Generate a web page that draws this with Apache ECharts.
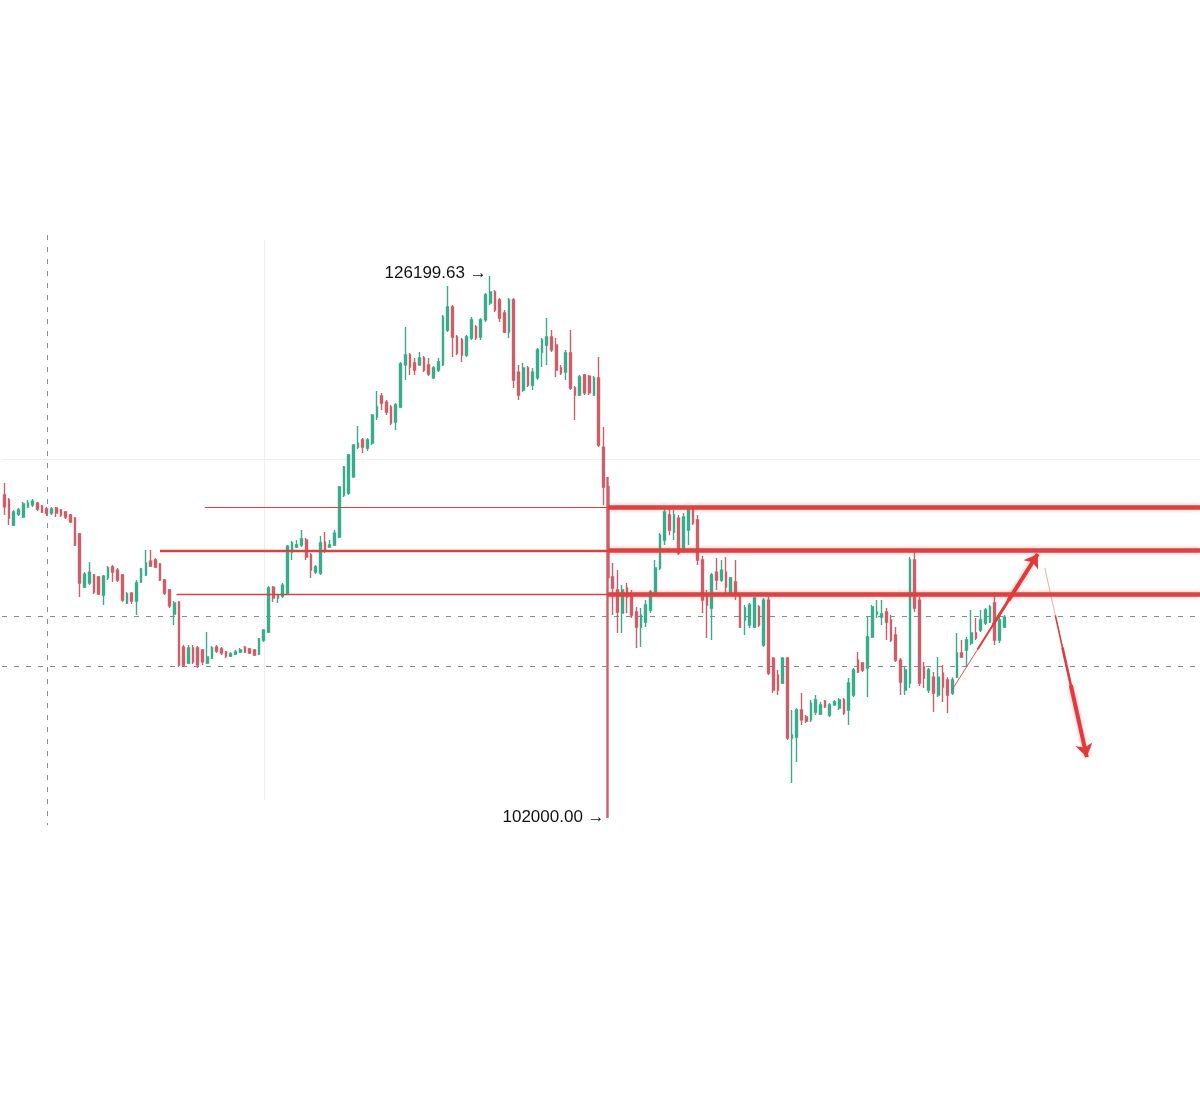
<!DOCTYPE html>
<html><head><meta charset="utf-8">
<script src="https://cdn.jsdelivr.net/npm/echarts@6/dist/echarts.min.js"></script>
<style>html,body{margin:0;padding:0;background:#fff}#c{width:1200px;height:1117px}</style>
</head><body><div id="c"></div>
<script>
// ---- candle data (4h bars) ----
const opens = [116420,116200,115080,115570,115440,115890,115980,116060,115930,115800,115620,115840,115750,115660,115530,115390,114680,112310,112490,112850,112760,111960,112720,113210,113070,112850,111600,112040,111690,112540,112850,113470,113520,113340,112630,112180,111110,111640,109630,108920,109590,109590,109500,108920,109140,109630,109550,109410,109230,109320,109410,109630,109550,109500,109320,109950,110300,112310,111820,111910,112040,113880,114100,114190,114410,113740,112980,112940,114320,114100,114190,114550,116420,116510,117230,118560,118880,118520,118740,119900,120840,120570,120350,119680,120350,122230,122670,122320,122230,122540,122230,121650,122000,122230,123790,124820,123480,123340,122670,123430,123920,123480,124240,124990,125490,125130,124550,123700,125130,121910,121110,122090,121330,121650,122810,123120,123480,123120,122090,121910,122760,121200,120890,121780,121730,120890,121650,118560,116780,112760,112180,111150,112270,111870,111200,110530,110750,111290,112090,113160,114410,115530,114770,115390,113970,114860,115750,115310,113520,111960,111380,112980,112630,112980,112040,112540,111960,110840,110620,110530,111420,109720,111730,109140,108380,108030,109140,105570,105620,106820,106510,106380,106730,106640,107220,106600,107050,106910,107270,106820,107490,109050,108920,108700,110080,111110,110970,111200,110840,110170,109050,107710,108030,113520,111730,108740,107710,108290,107490,108470,108160,107580,108290,109370,109500,109810,110260,110390,110710,110750,111600,109950,110530];
const closes = [115890,115390,115660,115750,116020,116060,116150,115800,115660,115620,115800,115620,115530,115440,115220,114190,112490,112890,112980,112090,112000,112800,113160,112980,112630,111730,112000,111690,112490,113120,113390,113250,113210,112630,112040,111470,111600,108830,108830,109590,108970,108830,108970,109190,109590,109460,109370,109230,109320,109410,109500,109410,109370,109280,109990,110390,112270,111820,111960,112400,114140,114280,114190,114460,113650,113070,113210,114280,113970,114190,114720,116780,117670,118210,118650,118740,118560,118880,119990,120350,120530,120130,119640,120440,122270,122670,122140,122000,122540,122000,121820,122090,122360,124370,124820,123480,122760,122670,123480,124240,123430,124240,125350,125490,124680,124320,123700,125130,121560,120890,122090,121330,121910,122900,123340,123480,122900,122000,121870,122760,121200,120890,121690,120980,120980,121650,118650,116780,112760,112270,111200,112180,111870,111060,110530,111060,111510,112090,113160,114630,115660,114860,115530,113830,115440,115750,115170,113520,111730,111510,112850,112630,113070,112310,112720,111960,110530,111380,111510,111820,110620,111730,108470,107710,107710,109140,105570,105710,106820,106380,106330,107130,107270,107050,106960,107050,107180,107270,106690,108030,108610,108520,108610,110080,111420,111200,111110,110750,109950,109050,108070,108610,113520,111380,108030,108250,108610,107580,108290,107850,107490,108160,109370,109190,109950,110260,110040,110840,111290,111420,109950,110840,110970];
const lows = [115530,115080,115040,115480,115390,115840,115890,115710,115620,115480,115530,115440,115440,115350,115170,114140,111870,112270,112400,112000,111960,111510,112630,112540,112540,111640,111550,111550,111060,112490,112800,113210,113160,112580,111960,111380,110620,108740,108740,108880,108880,108700,108830,108880,109100,109370,109280,109140,109190,109280,109370,109370,109320,109230,109280,109860,110260,111640,111600,111820,111960,113520,114060,114100,113520,112720,112890,112850,113830,114060,114140,114500,116330,116420,117180,118480,118300,118390,118650,119770,120220,119990,119550,119320,120310,121560,121780,121780,122180,121910,121730,121600,121910,122180,123700,122580,122670,122360,122580,123340,123340,123340,124150,124900,124590,124150,123650,123430,121200,120660,121020,121240,121110,121560,122140,122230,122810,121690,121780,121560,121110,119770,120840,120890,120890,120840,118560,115980,102000,111060,110260,110260,111150,110930,109590,109630,110530,111150,111960,113070,114190,114630,114410,113740,113830,114190,115080,113300,111150,110040,109950,112180,112540,111960,111960,111730,110480,110170,110480,110480,110530,109630,108380,107580,107490,107980,105480,103560,104500,106150,106240,106290,106600,106600,106910,106510,107000,106820,106600,106150,107400,108470,108520,107400,110040,110930,110620,109950,109860,108970,107490,107490,107800,111200,107890,107800,107580,106730,107400,107180,106690,107490,108250,109140,108740,109720,109950,110300,110620,110710,109720,109810,110480];
const highs = [116960,116290,115750,115840,116110,116200,116240,116110,115980,115890,115890,115890,115800,115710,115570,115440,114720,112980,113430,112890,112800,112850,113250,113300,113160,112890,112090,112090,112630,113160,113970,113970,113610,113390,112670,112220,111690,111690,109720,109720,109720,109680,109550,110300,109680,109720,109630,109460,109410,109500,109590,109680,109590,109550,110040,110440,112360,112360,112000,112490,114190,114370,114410,114860,114500,113830,113300,114590,114770,114410,114860,116820,117720,118250,118700,119500,118970,118970,120040,121070,120980,120660,120440,120530,122360,123920,122760,122540,122810,122630,122540,122180,122540,124460,125750,124900,123570,123430,123570,124370,124010,124320,125440,126199.63,125570,125220,124680,125220,125220,122230,122320,122180,122090,122990,123430,124320,123790,123430,122230,122900,123790,121290,121780,121820,121780,121730,122580,119460,117230,113390,113070,112400,112490,112180,111420,111380,111730,112180,113520,114720,115890,115890,115750,115530,115620,115890,115890,115530,113700,112180,112940,113610,113520,113650,112760,113520,112040,111510,111600,111870,111510,111820,111870,109190,108610,109190,109190,106820,106910,107580,106600,107270,107490,107180,107270,107130,107270,107360,107360,108250,108700,109410,108970,110970,111510,111730,111730,111380,111060,110530,109140,108740,113650,113920,111870,108970,108700,108520,109190,108830,108290,108290,110260,109950,110080,111290,110930,111290,111380,111510,112090,110970,111060];

// ---- annotations (data space: bar index, price) ----
const highMark = {index: 103, price: 126199.63, text: '126199.63'};
const lowMark = {index: 128, price: 102000, text: '102000.00'};
const levelPrices = [115870, 113940, 111990];
const levelStartIdx = [42.5, 33, 36.5];
const levelBreakIdx = 128;
const dashedPrices = [110990, 108790];
const dashedVIdx = 9;
const dashedVRange = [128030, 101680];
const gridVIdx = 55;
const gridVRange = [127800, 102800];
const gridHPrice = 118030;
const upArrow = [[200.9, 107710], [219.1, 113790]];
const downArrow = [[220.6, 113160], [229.5, 104720]];
const boldBars = [128];

const N_SLOTS = 254;
const categories = Array.from({length: N_SLOTS}, (_, i) => String(i));
const X_MIN = -0.5, X_MAX = N_SLOTS - 0.5;

const candleData = opens.map((o, i) => {
  const v = [o, closes[i], lows[i], highs[i]];
  return boldBars.includes(i) ? {value: v, itemStyle: {borderWidth: 2.4}} : v;
});

function part(a, t0, t1) {
  const p = t => [a[0][0] + (a[1][0] - a[0][0]) * t, a[0][1] + (a[1][1] - a[0][1]) * t];
  return [p(t0), p(t1)];
}

const RED = '#d94343';
const glow = {shadowBlur: 4, shadowColor: 'rgba(235,80,80,0.45)'};
const UP = '#3aab8c', DOWN = '#cc5f6a';

const chart = echarts.init(document.getElementById('c'), null, {renderer: 'canvas'});
chart.setOption({
  animation: false,
  backgroundColor: '#ffffff',
  grid: {left: 2, right: 0, top: 190.9, bottom: 254.2},
  xAxis: [
    {type: 'category', data: categories, show: false, boundaryGap: true},
    {type: 'value', min: X_MIN, max: X_MAX, show: false}
  ],
  yAxis: [{type: 'value', min: 100000, max: 130000, show: false, scale: true}],
  series: [
    {
      type: 'lines', coordinateSystem: 'cartesian2d', xAxisIndex: 1, yAxisIndex: 0, z: 1, silent: true,
      lineStyle: {color: '#eeeeee', width: 1, opacity: 1},
      data: [
        {coords: [[gridVIdx, gridVRange[0]], [gridVIdx, gridVRange[1]]]},
        {coords: [[X_MIN, gridHPrice], [X_MAX, gridHPrice]]}
      ]
    },
    {
      type: 'lines', coordinateSystem: 'cartesian2d', xAxisIndex: 1, yAxisIndex: 0, z: 1, silent: true,
      lineStyle: {color: '#8a8a8a', width: 1, opacity: 1, type: [5, 7]},
      data: [
        {coords: [[dashedVIdx, dashedVRange[0]], [dashedVIdx, dashedVRange[1]]]},
        ...dashedPrices.map(p => ({coords: [[X_MIN, p], [X_MAX, p]]}))
      ]
    },
    {
      type: 'candlestick', xAxisIndex: 0, yAxisIndex: 0, z: 2,
      data: candleData, barWidth: 2.2,
      itemStyle: {color: UP, color0: DOWN, borderColor: UP, borderColor0: DOWN, borderWidth: 1.4},
      markPoint: {
        symbol: 'circle', symbolSize: 1, silent: true,
        itemStyle: {color: 'rgba(0,0,0,0)'},
        label: {show: true, position: 'left', distance: 3, color: '#131313', fontSize: 17,
                fontFamily: 'Liberation Sans, Arial, sans-serif', formatter: '{b} →'},
        data: [
          {name: highMark.text, coord: [highMark.index, highMark.price], label: {offset: [0, -3]}},
          {name: lowMark.text, coord: [lowMark.index, lowMark.price], label: {offset: [0, -1]}}
        ]
      }
    },
    {
      type: 'lines', coordinateSystem: 'cartesian2d', xAxisIndex: 1, yAxisIndex: 0, z: 5, silent: true,
      lineStyle: {color: '#d04545', opacity: 1},
      data: levelPrices.map((p, k) => ({
        coords: [[levelStartIdx[k], p], [levelBreakIdx, p]],
        lineStyle: {width: [1.2, 2.4, 1.3][k], color: '#d04545', opacity: 1}
      }))
    },
    {
      type: 'lines', coordinateSystem: 'cartesian2d', xAxisIndex: 1, yAxisIndex: 0, z: 5, silent: true,
      lineStyle: Object.assign({color: RED, width: 4.5, opacity: 1}, glow),
      data: levelPrices.map(p => ({coords: [[levelBreakIdx, p], [X_MAX, p]]}))
    },
    {
      type: 'lines', coordinateSystem: 'cartesian2d', xAxisIndex: 1, yAxisIndex: 0, z: 6, silent: true,
      lineStyle: {color: '#e03c3c', opacity: 1},
      data: [
        {coords: part(upArrow, 0, 1), lineStyle: {width: 1, opacity: 0.9}},
        {coords: part(upArrow, 0.3, 0.97), lineStyle: {width: 2}},
        {coords: part(upArrow, 0.48, 0.97), lineStyle: {width: 3}},
        {coords: part(downArrow, 0, 1), lineStyle: {width: 0.8, opacity: 0.55}},
        {coords: part(downArrow, 0.25, 0.97), lineStyle: {width: 1.6}},
        {coords: part(downArrow, 0.42, 0.97), lineStyle: {width: 2.6}}
      ]
    },
    {
      type: 'lines', coordinateSystem: 'cartesian2d', xAxisIndex: 1, yAxisIndex: 0, z: 7, silent: true,
      symbol: ['none', 'arrow'], symbolSize: 13,
      lineStyle: Object.assign({color: '#e23a3a', width: 4, opacity: 1}, glow),
      data: [
        {coords: part(upArrow, 0.66, 1)},
        {coords: part(downArrow, 0.62, 1)}
      ]
    }
  ]
});
</script></body></html>
